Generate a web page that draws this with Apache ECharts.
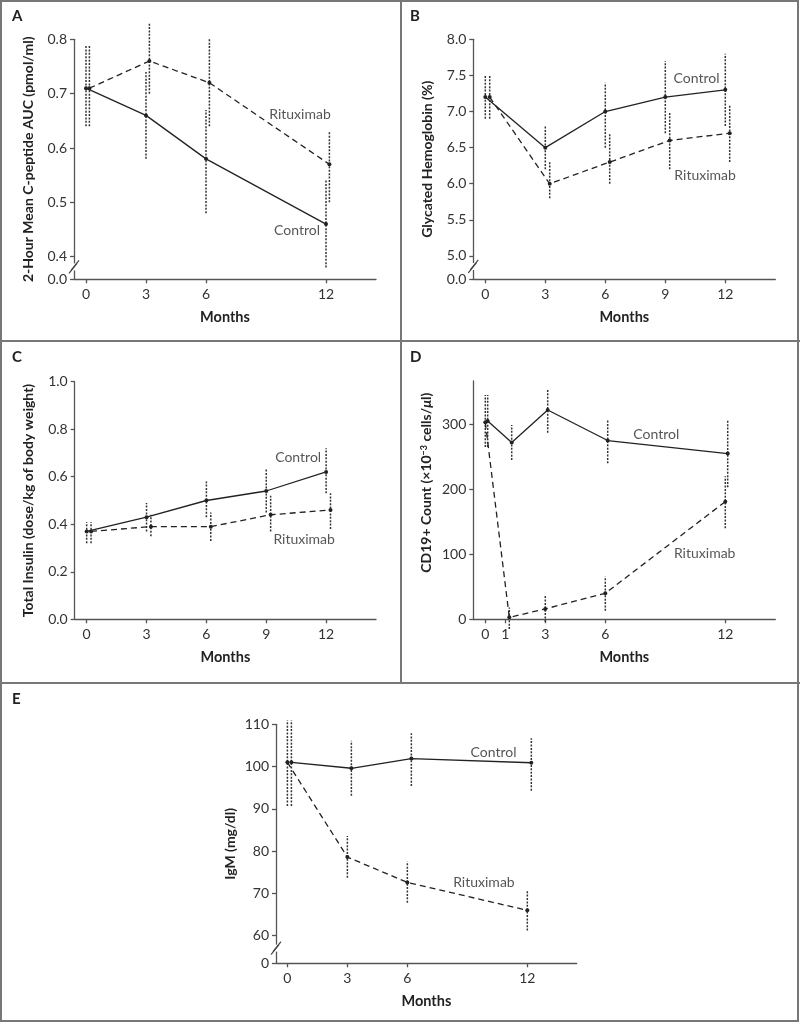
<!DOCTYPE html>
<html><head><meta charset="utf-8">
<script src="https://cdn.jsdelivr.net/npm/echarts@6/dist/echarts.min.js"></script>
<style>html,body{margin:0;padding:0;background:#fff}#c{width:800px;height:1024px}</style>
</head><body><div id="c"></div>
<script>
// ---------------- DATA ----------------
// Panel A: 2-Hour Mean C-peptide AUC (pmol/ml)
const A_months   = [0, 3, 6, 12];
const A_ctrl     = [0.71, 0.66, 0.58, 0.46];
const A_ctrl_lo  = [0.64, 0.58, 0.48, 0.38];
const A_ctrl_hi  = [0.79, 0.74, 0.67, 0.54];
const A_rtx      = [0.71, 0.76, 0.72, 0.57];
const A_rtx_lo   = [0.64, 0.70, 0.64, 0.50];
const A_rtx_hi   = [0.79, 0.83, 0.80, 0.63];
const A_yTicks   = [0.4, 0.5, 0.6, 0.7, 0.8];

// Panel B: Glycated Hemoglobin (%)
const B_months   = [0, 3, 6, 9, 12];
const B_ctrl     = [7.2, 6.5, 7.0, 7.2, 7.3];
const B_ctrl_lo  = [6.9, 6.2, 6.5, 6.7, 6.8];
const B_ctrl_hi  = [7.5, 6.8, 7.4, 7.7, 7.8];
const B_rtx      = [7.2, 6.0, 6.3, 6.6, 6.7];
const B_rtx_lo   = [6.9, 5.8, 6.0, 6.2, 6.3];
const B_rtx_hi   = [7.5, 6.3, 6.7, 7.0, 7.1];
const B_yTicks   = [5.0, 5.5, 6.0, 6.5, 7.0, 7.5, 8.0];

// Panel C: Total Insulin (dose/kg of body weight)
const C_months   = [0, 3, 6, 9, 12];
const C_ctrl     = [0.37, 0.43, 0.50, 0.54, 0.62];
const C_ctrl_lo  = [0.32, 0.37, 0.43, 0.45, 0.53];
const C_ctrl_hi  = [0.41, 0.49, 0.58, 0.63, 0.72];
const C_rtx      = [0.37, 0.39, 0.39, 0.44, 0.46];
const C_rtx_lo   = [0.32, 0.35, 0.33, 0.37, 0.38];
const C_rtx_hi   = [0.41, 0.44, 0.45, 0.52, 0.53];
const C_yTicks   = [0, 0.2, 0.4, 0.6, 0.8, 1.0];

// Panel D: CD19+ Count
const D_months   = [0, 1.2, 3, 6, 12];
const D_xTicks   = [0, 1, 3, 6, 12];
const D_ctrl     = [305, 272, 322, 275, 255];
const D_ctrl_lo  = [265, 245, 287, 240, 203];
const D_ctrl_hi  = [345, 299, 355, 307, 307];
const D_rtx      = [303, 3, 16, 40, 181];
const D_rtx_lo   = [265, -15, -4, 13, 140];
const D_rtx_hi   = [345, 18, 37, 66, 220];
const D_yTicks   = [0, 100, 200, 300];

// Panel E: IgM (mg/dl)
const E_months   = [0, 3, 6, 12];
const E_ctrl     = [101, 99.6, 101.9, 100.9];
const E_ctrl_lo  = [90.7, 93.1, 95.4, 94.3];
const E_ctrl_hi  = [110.9, 106.1, 107.9, 106.7];
const E_rtx      = [101, 78.6, 72.6, 66.0];
const E_rtx_lo   = [90.7, 73.7, 67.8, 61.2];
const E_rtx_hi   = [110.9, 83.6, 77.5, 70.7];
const E_yTicks   = [60, 70, 80, 90, 100, 110];

const SERIES_NAMES = ['Control', 'Rituximab'];

// ---------------- CHART ----------------
const FONT = 'Lato, "Open Sans", sans-serif';
const INK = '#222';
const chart = echarts.init(document.getElementById('c'), null, {renderer: 'canvas'});

const panels = [
  { letter: 'A', grid: {left: 74, top: 39.3, width: 302, height: 240},
    xMin: -0.6, xMax: 14.5, xTicks: A_months,
    yMin: 0.3584, yMax: 0.8, yTicks: A_yTicks, dec: 1, brk: true,
    name: '2-Hour Mean C-peptide AUC (pmol/ml)',
    months: A_months, dodgeC: 0, dodgeR: 0.17,
    c: A_ctrl, clo: A_ctrl_lo, chi: A_ctrl_hi, r: A_rtx, rlo: A_rtx_lo, rhi: A_rtx_hi,
    labC: [10.55, 0.449], labR: [10.7, 0.661] },
  { letter: 'B', grid: {left: 473.3, top: 39.3, width: 302, height: 240},
    xMin: -0.6, xMax: 14.5, xTicks: B_months,
    yMin: 4.677, yMax: 8.0, yTicks: B_yTicks, dec: 1, brk: true,
    name: 'Glycated Hemoglobin (%)',
    months: B_months, dodgeC: 0, dodgeR: 0.22,
    c: B_ctrl, clo: B_ctrl_lo, chi: B_ctrl_hi, r: B_rtx, rlo: B_rtx_lo, rhi: B_rtx_hi,
    labC: [10.56, 7.464], labR: [10.99, 6.12] },
  { letter: 'C', grid: {left: 74.7, top: 381.7, width: 301.3, height: 237.6},
    xMin: -0.6, xMax: 14.5, xTicks: C_months,
    yMin: 0, yMax: 1.0, yTicks: C_yTicks, dec: 1, brk: false,
    name: 'Total Insulin (dose/kg of body weight)',
    months: C_months, dodgeC: 0, dodgeR: 0.22,
    c: C_ctrl, clo: C_ctrl_lo, chi: C_ctrl_hi, r: C_rtx, rlo: C_rtx_lo, rhi: C_rtx_hi,
    labC: [10.6, 0.682], labR: [10.9, 0.338] },
  { letter: 'D', grid: {left: 473.3, top: 381, width: 302, height: 238.3},
    xMin: -0.6, xMax: 14.5, xTicks: D_xTicks,
    yMin: 0, yMax: 366.6, yTicks: D_yTicks, dec: 0, brk: false,
    name: 'CD19+ Count (×10{sup|−3} cells/{it|μ}l)',
    months: D_months, dodgeC: 0.12, dodgeR: 0,
    c: D_ctrl, clo: D_ctrl_lo, chi: D_ctrl_hi, r: D_rtx, rlo: D_rtx_lo, rhi: D_rtx_hi,
    labC: [8.55, 284.6], labR: [10.97, 101.5], namePad: [0, 0, 0, 35] },
  { letter: 'E', grid: {left: 276, top: 724.3, width: 300.7, height: 239},
    xMin: -0.57, xMax: 14.47, xTicks: E_months,
    yMin: 53.47, yMax: 110, yTicks: E_yTicks, dec: 0, brk: true,
    name: 'IgM (mg/dl)',
    months: E_months, dodgeC: 0.2, dodgeR: 0,
    c: E_ctrl, clo: E_ctrl_lo, chi: E_ctrl_hi, r: E_rtx, rlo: E_rtx_lo, rhi: E_rtx_hi,
    labC: [10.31, 103.3], labR: [9.83, 72.5] }
];

function errRender(params, api) {
  const x = api.value(0), lo = api.value(1), hi = api.value(2);
  const p1 = api.coord([x, lo]), p2 = api.coord([x, hi]);
  return { type: 'line',
    shape: {x1: p1[0], y1: p1[1], x2: p2[0], y2: p2[1]},
    style: {stroke: '#333', lineWidth: 1.5, lineDash: [2, 1.4]} };
}

const grids = [], xAxes = [], yAxes = [], series = [];
const axisLineStyle = {color: '#555', width: 1.3};

panels.forEach((p, i) => {
  grids.push(Object.assign({containLabel: false}, p.grid));
  xAxes.push({
    type: 'value', gridIndex: i, min: p.xMin, max: p.xMax,
    name: 'Months', nameLocation: 'middle', nameGap: 31,
    nameTextStyle: {fontFamily: FONT, fontWeight: 'bold', fontSize: 14.5, color: INK},
    axisLine: {show: true, onZero: false, lineStyle: axisLineStyle},
    axisTick: {show: true, length: 4, lineStyle: axisLineStyle, customValues: p.xTicks},
    axisLabel: {show: true, margin: 8, fontFamily: FONT, fontSize: 14, color: '#333',
      customValues: p.xTicks, formatter: v => String(Math.round(v))},
    splitLine: {show: false}
  });
  const yVals = p.brk ? [p.yMin].concat(p.yTicks) : p.yTicks;
  yAxes.push({
    type: 'value', gridIndex: i, min: p.yMin, max: p.yMax,
    name: p.name, nameLocation: 'middle', nameGap: 39,
    nameTextStyle: {fontFamily: FONT, fontWeight: 'bold', fontSize: 14, color: INK,
      padding: p.namePad || 0,
      rich: {sup: {fontFamily: FONT, fontWeight: 'bold', fontSize: 9, color: INK, verticalAlign: 'top', padding: [0, 0, 6, 0]},
             it: {fontFamily: FONT, fontWeight: 'bold', fontStyle: 'italic', fontSize: 14, color: INK}}},
    axisLine: {show: true, onZero: false, lineStyle: axisLineStyle},
    axisTick: {show: true, length: 4, lineStyle: axisLineStyle, customValues: yVals},
    axisLabel: {show: true, margin: 7, fontFamily: FONT, fontSize: 14, color: '#333',
      customValues: yVals,
      formatter: v => (p.brk && Math.abs(v - p.yMin) < 1e-6) ? (p.dec ? (0).toFixed(p.dec) : '0') : v.toFixed(p.dec)},
    splitLine: {show: false}
  });
  const mk = (vals, lo, hi, dodge) => ({
    pts: p.months.map((m, k) => [m + dodge, vals[k]]),
    err: p.months.map((m, k) => [m + dodge, lo[k], hi[k]])
  });
  const C = mk(p.c, p.clo, p.chi, p.dodgeC), R = mk(p.r, p.rlo, p.rhi, p.dodgeR);
  [C, R].forEach((s, j) => {
    series.push({ type: 'custom', xAxisIndex: i, yAxisIndex: i, renderItem: errRender,
      data: s.err, clip: false, z: 2, silent: true, animation: false });
  });
  [C, R].forEach((s, j) => {
    series.push({ type: 'line', name: SERIES_NAMES[j], xAxisIndex: i, yAxisIndex: i,
      data: s.pts, clip: false, z: 3, animation: false, silent: true,
      symbol: 'circle', symbolSize: 4, showSymbol: true,
      itemStyle: {color: INK},
      lineStyle: {color: INK, width: 1.3, type: j === 0 ? 'solid' : [6, 4]} });
  });
  series.push({ type: 'scatter', xAxisIndex: i, yAxisIndex: i, symbolSize: 0,
    silent: true, animation: false, z: 4,
    data: [ {value: p.labC, name: SERIES_NAMES[0]}, {value: p.labR, name: SERIES_NAMES[1]} ],
    label: {show: true, position: 'inside', formatter: d => d.name,
      fontFamily: FONT, fontSize: 14, color: '#2a2a2a'} });
});

const frame = [
  {type: 'rect', shape: {x: 1, y: 1, width: 797, height: 1020}, style: {fill: null, stroke: '#777', lineWidth: 2}},
  {type: 'line', shape: {x1: 401, y1: 0, x2: 401, y2: 683}, style: {stroke: '#777', lineWidth: 2}},
  {type: 'line', shape: {x1: 0, y1: 341, x2: 800, y2: 341}, style: {stroke: '#777', lineWidth: 2}},
  {type: 'line', shape: {x1: 0, y1: 683, x2: 800, y2: 683}, style: {stroke: '#777', lineWidth: 2}},
  {type: 'text', left: 12, top: 9, style: {text: 'A', font: 'bold 15px ' + FONT, fill: INK}},
  {type: 'text', left: 410, top: 9, style: {text: 'B', font: 'bold 15px ' + FONT, fill: INK}},
  {type: 'text', left: 12, top: 350, style: {text: 'C', font: 'bold 15px ' + FONT, fill: INK}},
  {type: 'text', left: 410, top: 350, style: {text: 'D', font: 'bold 15px ' + FONT, fill: INK}},
  {type: 'text', left: 12, top: 692, style: {text: 'E', font: 'bold 15px ' + FONT, fill: INK}}
];

chart.setOption({
  backgroundColor: '#fff',
  animation: false,
  grid: grids, xAxis: xAxes, yAxis: yAxes, series: series,
  graphic: frame
});

// axis-break marks (//) drawn where the axes put them
const brkEls = [];
panels.forEach((p, i) => {
  if (!p.brk) return;
  const x = chart.convertToPixel({xAxisIndex: i}, p.xMin);
  const yMinPx = chart.convertToPixel({yAxisIndex: i}, p.yMin);
  const yFirst = chart.convertToPixel({yAxisIndex: i}, p.yTicks[0]);
  const cy = yFirst + 0.45 * (yMinPx - yFirst);
  brkEls.push({type: 'rect', shape: {x: x - 2, y: cy - 3.5, width: 4, height: 7}, style: {fill: '#fff'}, z: 100});
  brkEls.push({type: 'line', shape: {x1: x - 5, y1: cy + 6.5, x2: x + 3, y2: cy - 3.5}, style: {stroke: '#444', lineWidth: 1.2}, z: 101});
  brkEls.push({type: 'line', shape: {x1: x - 3, y1: cy + 3.5, x2: x + 5, y2: cy - 6.5}, style: {stroke: '#444', lineWidth: 1.2}, z: 101});
});
chart.setOption({graphic: frame.concat(brkEls)});
</script>
</body></html>
